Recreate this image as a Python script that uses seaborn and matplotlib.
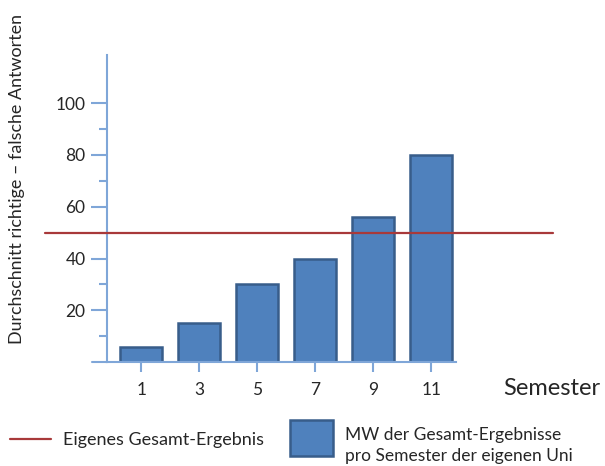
import matplotlib
matplotlib.use("Agg")
import matplotlib.pyplot as plt
import seaborn as sns
from matplotlib.lines import Line2D
from matplotlib.patches import Rectangle

# Daten
semester = ["1", "3", "5", "7", "9", "11"]
mittelwerte = [6, 15, 30, 40, 56, 80]
eigenes_ergebnis = 50
y_ticks = [20, 40, 60, 80, 100]
y_minor = [10, 30, 50, 70, 90]
label_linie = "Eigenes Gesamt-Ergebnis"
label_balken = ["MW der Gesamt-Ergebnisse", "pro Semester der eigenen Uni"]

bar_color = "#4F81BD"
edge_color = "#385D8A"
axis_color = "#7FA6D8"
red = "#A8393A"
text_color = "#262626"

sns.set_style("white")
plt.rcParams["font.family"] = ["Lato", "DejaVu Sans"]

fig = plt.figure(figsize=(6.05, 4.66), dpi=100)
ax = fig.add_axes([0.177, 0.223, 0.577, 0.659])

sns.barplot(x=semester, y=mittelwerte, color=bar_color, saturation=1,
            edgecolor=edge_color, linewidth=1.8, width=0.72, ax=ax)

ax.set_xlim(-0.59, 5.43)
ax.set_ylim(0, 118.6)
ax.set_yticks(y_ticks)
ax.set_yticks(y_minor, minor=True)

# eigene Linie ueber die Achsen hinaus
ax.plot([-0.178, 1.278], [eigenes_ergebnis, eigenes_ergebnis], color=red,
        lw=1.6, transform=ax.get_yaxis_transform(), clip_on=False, zorder=5)
# x-Achse etwas nach links verlaengert
ax.plot([-0.043, 0], [0, 0], color=axis_color, lw=1.5,
        transform=ax.transAxes, clip_on=False)

for s in ["top", "right"]:
    ax.spines[s].set_visible(False)
for s in ["left", "bottom"]:
    ax.spines[s].set_color(axis_color)
    ax.spines[s].set_linewidth(1.5)

ax.tick_params(axis="y", which="major", length=11.5, width=1.5, color=axis_color,
               labelsize=12.5, labelcolor=text_color, pad=4, direction="out", left=True)
ax.tick_params(axis="y", which="minor", length=5.5, width=1.5, color=axis_color,
               direction="out", left=True)
ax.tick_params(axis="x", length=7, width=1.5, color=axis_color,
               labelsize=12.5, labelcolor=text_color, pad=7, direction="out", bottom=True)

ax.set_xlabel("")
ax.set_ylabel("Durchschnitt richtige – falsche Antworten", fontsize=12.9, color=text_color)
ax.yaxis.set_label_coords(-0.235, 0.595)

fig.text(0.993, 0.167, "Semester", fontsize=17, color=text_color,
         ha="right", va="center")

# Legende von Hand unten
fig.add_artist(Line2D([0.0165, 0.0843], [0.0579, 0.0579], color=red, lw=1.6))
fig.text(0.104, 0.0451, label_linie, fontsize=13, color=text_color, va="baseline")
fig.add_artist(Rectangle((0.479, 0.0215), 0.0711, 0.0773, facecolor=bar_color,
                         edgecolor=edge_color, linewidth=1.8))
fig.text(0.570, 0.0558, label_balken[0], fontsize=12.5, color=text_color, va="baseline")
fig.text(0.570, 0.0107, label_balken[1], fontsize=12.5, color=text_color, va="baseline")

fig.savefig("out.png", dpi=100)
